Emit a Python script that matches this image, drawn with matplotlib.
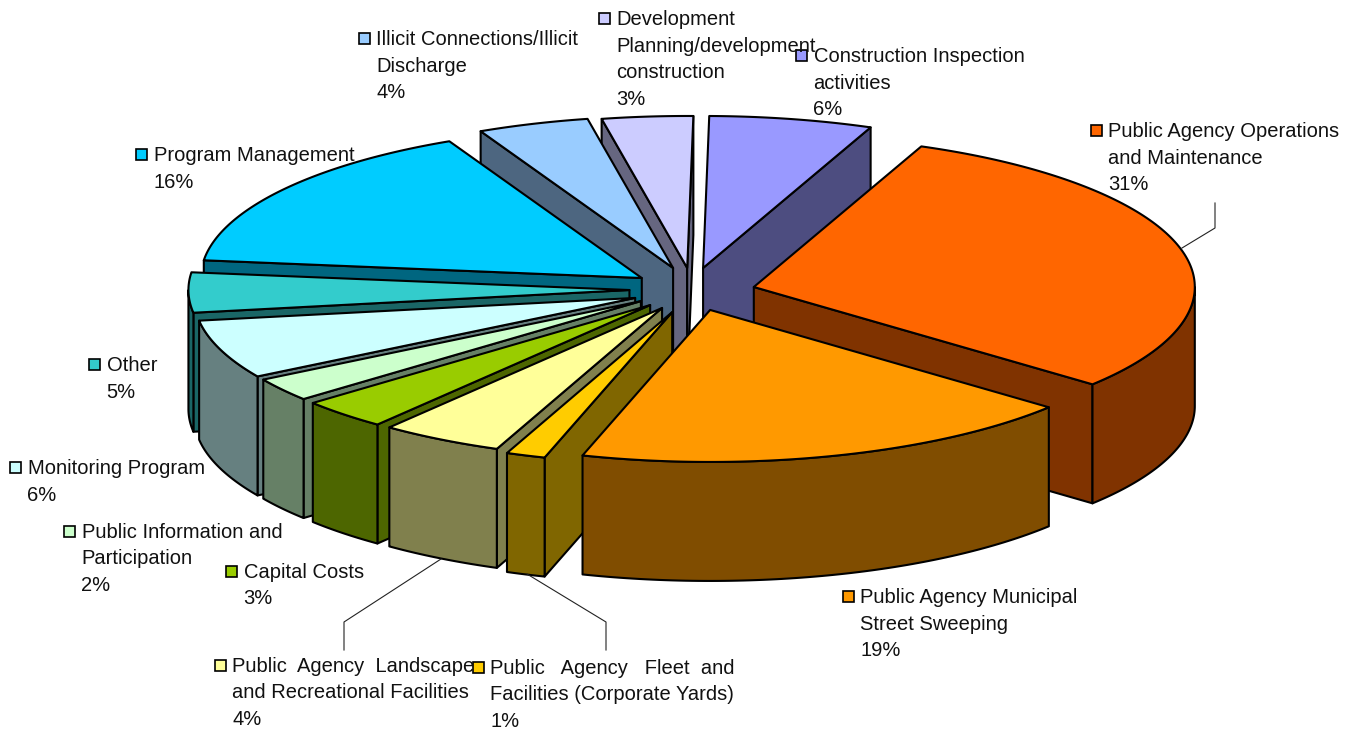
import numpy as np
import matplotlib
matplotlib.use("Agg")
import matplotlib.pyplot as plt
from matplotlib.patches import Polygon, Rectangle

plt.rcParams["font.family"] = ["Liberation Sans", "DejaVu Sans"]

# DATA (clockwise from 12 o'clock)
names = ["Construction", "Operations", "Sweeping", "Fleet", "Landscape", "Capital",
         "Information", "Monitoring", "Other", "Program", "Illicit", "Development"]
# share of the circle as drawn
shares = [5.98, 29.86, 18.61, 1.44, 4.5, 3.25, 2.5, 6.25, 4.25, 15.95, 4.08, 3.33]
# how far each slice is pulled out, as a fraction of the radii (y is positive downwards)
explode_x = [0.007, 0.122, 0.023, -0.063, -0.086, -0.113, -0.134, -0.147, -0.16, -0.132, -0.061, -0.029]
explode_y = [-0.158, -0.033, 0.118, 0.132, 0.105, 0.086, 0.06, 0.039, -0.013, -0.092, -0.158, -0.158]
colors = ["#9999FF", "#FF6600", "#FF9900", "#FFCC00", "#FFFF99", "#99CC00",
          "#CCFFCC", "#CCFFFF", "#33CCCC", "#00CCFF", "#99CCFF", "#CCCCFF"]
draw_order = [0, 11, 10, 9, 8, 7, 6, 5, 4, 3, 1, 2]

labels = [
    ["Construction Inspection", "activities", "6%"],
    ["Public Agency Operations", "and Maintenance", "31%"],
    ["Public Agency Municipal", "Street Sweeping", "19%"],
    ["Public   Agency   Fleet  and", "Facilities (Corporate Yards)", "1%"],
    ["Public  Agency  Landscape", "and Recreational Facilities", "4%"],
    ["Capital Costs", "3%"],
    ["Public Information and", "Participation", "2%"],
    ["Monitoring Program", "6%"],
    ["Other", "5%"],
    ["Program Management", "16%"],
    ["Illicit Connections/Illicit", "Discharge", "4%"],
    ["Development", "Planning/development", "construction", "3%"],
]
# key centre of each label, in pixels
label_pos = [(801, 55), (1096, 130), (848, 596), (478, 667), (220, 665), (231, 571),
             (69, 531), (15, 467), (94, 364), (141, 154), (364, 38), (604, 18)]
leaders = [[(1182, 248), (1215, 228), (1215, 203)],
           [(441, 559), (344, 622), (344, 650)],
           [(527, 574), (606, 622), (606, 650)]]

# PIE GEOMETRY
cx, cy = 700, 292
rx, ry = 441, 152
depth = 119

fig = plt.figure(figsize=(13.49, 7.29), dpi=100)
ax = fig.add_axes([0, 0, 1, 1])
ax.set_xlim(0, 1349)
ax.set_ylim(729, 0)
ax.axis("off")


def darker(c):
    return tuple(v * 0.5 for v in matplotlib.colors.to_rgb(c))


def point(a, ox, oy, dz=0):
    return ox + rx * np.sin(a), oy - ry * np.cos(a) + dz


def face(pts, color, z):
    ax.add_patch(Polygon(pts, closed=True, facecolor=color, edgecolor="black",
                         linewidth=1.5, joinstyle="round", zorder=z))


edges = np.radians(np.concatenate([[0.8], 0.8 + np.cumsum(shares) * 3.6]))

z = 1
for i in draw_order:
    a0, a1 = edges[i], edges[i + 1]
    ox = cx + explode_x[i] * rx
    oy = cy + explode_y[i] * ry
    wall = darker(colors[i])

    # cut faces turned towards the viewer
    if np.sin(a0) < 0:
        p = point(a0, ox, oy)
        face([(ox, oy), p, (p[0], p[1] + depth), (ox, oy + depth)], wall, z)
    if np.sin(a1) > 0:
        p = point(a1, ox, oy)
        face([(ox, oy), p, (p[0], p[1] + depth), (ox, oy + depth)], wall, z)

    # outer rim, front half only
    lo, hi = max(a0, np.pi / 2), min(a1, 3 * np.pi / 2)
    if lo < hi:
        t = np.linspace(lo, hi, 80)
        top = np.column_stack(point(t, ox, oy))
        bottom = top + [0, depth]
        face(np.vstack([top, bottom[::-1]]), wall, z)

    # top
    t = np.linspace(a0, a1, 120)
    arc = np.column_stack(point(t, ox, oy))
    face(np.vstack([[ox, oy], arc]), colors[i], z)
    z += 1

# LEADER LINES
for line in leaders:
    xs, ys = zip(*line)
    ax.plot(xs, ys, color="#222222", linewidth=0.8, zorder=30)

# LABELS
for i, lines in enumerate(labels):
    kx, ky = label_pos[i]
    ax.add_patch(Rectangle((kx - 5.5, ky - 5.5), 11, 11, facecolor=colors[i],
                           edgecolor="black", linewidth=1.2, zorder=40))
    for j, s in enumerate(lines):
        ax.text(kx + 12.5, ky + 7 + j * 26.5, s, fontsize=14.5, color="#111111",
                va="baseline", ha="left", zorder=41)

fig.savefig("out.png", dpi=100)
